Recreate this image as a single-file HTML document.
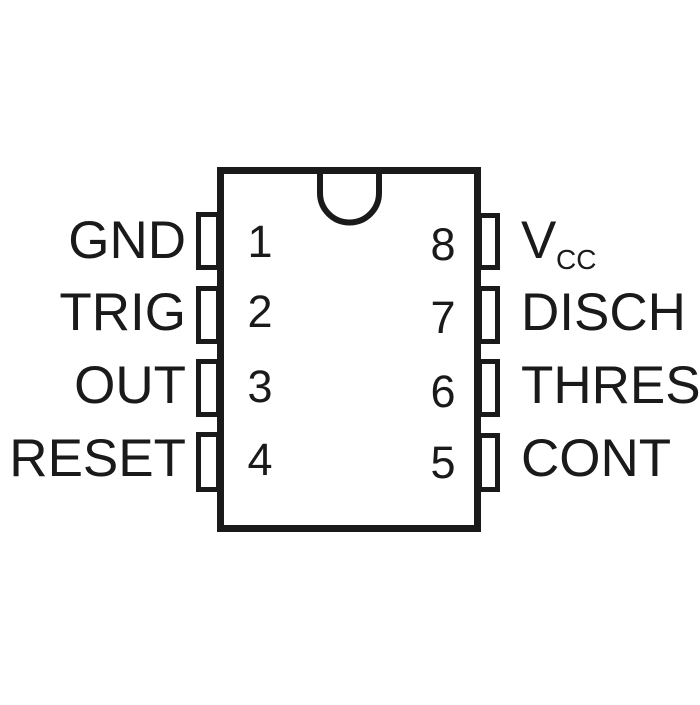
<!DOCTYPE html>
<html><head><style>html,body{margin:0;padding:0;background:#fff}</style></head>
<body>
<svg width="700" height="700" viewBox="0 0 700 700" xmlns="http://www.w3.org/2000/svg">
<rect width="700" height="700" fill="#fff"/>
<g fill="none" stroke="#1a1a1a">
<rect x="220.5" y="170.5" width="257" height="358" stroke-width="7"/>
<path d="M320 170 V193 A29.5 29.5 0 0 0 379 193 V170" stroke-width="6"/>
<g stroke-width="5">
<rect x="198.5" y="214.5" width="20" height="53"/>
<rect x="198.5" y="288.5" width="20" height="53"/>
<rect x="198.5" y="361.5" width="20" height="53"/>
<rect x="198.5" y="434.5" width="20" height="55"/>
<rect x="479.5" y="215.5" width="18" height="52"/>
<rect x="479.5" y="288.5" width="18" height="53"/>
<rect x="479.5" y="361.5" width="18" height="53"/>
<rect x="479.5" y="435.5" width="18" height="54"/>
</g>
</g>
<g font-family="Liberation Sans, Arial, sans-serif" fill="#1a1a1a">
<g font-size="53" text-anchor="end">
<text x="186" y="258">GND</text>
<text x="186" y="330">TRIG</text>
<text x="186" y="403">OUT</text>
<text x="186" y="476">RESET</text>
</g>
<g font-size="53">
<text x="521" y="258">V</text>
<text x="556" y="269" font-size="28">CC</text>
<text x="521" y="330">DISCH</text>
<text x="521" y="403">THRES</text>
<text x="521" y="476">CONT</text>
</g>
<g font-size="45" text-anchor="middle">
<text x="260" y="257">1</text>
<text x="260" y="327">2</text>
<text x="260" y="402">3</text>
<text x="260" y="475">4</text>
<text x="443" y="260">8</text>
<text x="443" y="333">7</text>
<text x="443" y="407">6</text>
<text x="443" y="478">5</text>
</g>
</g>
</svg>
</body></html>
